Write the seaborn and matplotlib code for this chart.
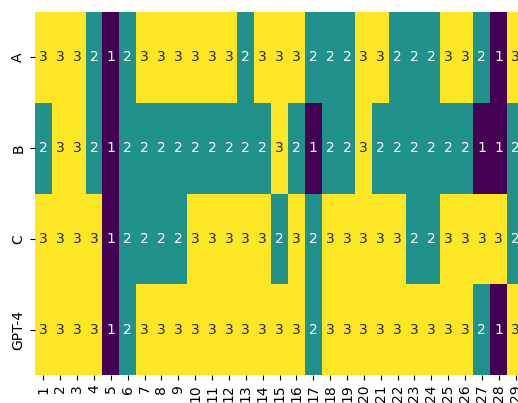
import seaborn as sns
import pandas as pd
import numpy as np
import matplotlib
matplotlib.use("Agg")
import matplotlib.pyplot as plt


questions = [str(i) for i in range(1, 30)]
graders = ["A", "B", "C", "GPT-4"]
scores_a = [3, 3, 3, 2, 1, 2, 3, 3, 3, 3, 3, 3, 2, 3, 3, 3, 2, 2, 2, 3, 3, 2, 2, 2, 3, 3, 2, 1, 3]
scores_b = [2, 3, 3, 2, 1, 2, 2, 2, 2, 2, 2, 2, 2, 2, 3, 2, 1, 2, 2, 3, 2, 2, 2, 2, 2, 2, 1, 1, 2]
scores_c = [3, 3, 3, 3, 1, 2, 2, 2, 2, 3, 3, 3, 3, 3, 2, 3, 2, 3, 3, 3, 3, 3, 2, 2, 3, 3, 3, 3, 2]
scores_gpt4 = [3, 3, 3, 3, 1, 2, 3, 3, 3, 3, 3, 3, 3, 3, 3, 3, 2, 3, 3, 3, 3, 3, 3, 3, 3, 3, 2, 1, 3]

df = pd.DataFrame([scores_a, scores_b, scores_c, scores_gpt4], index=graders, columns=questions)

fig = plt.figure(figsize=(5.18, 4.03), dpi=100)
# the right-most column runs slightly past the figure edge, as in the original
ax = fig.add_axes([35 / 518, 28 / 403, 489 / 518, 363 / 403])
sns.heatmap(df, ax=ax, cmap="viridis", annot=True, fmt="d", cbar=False)
ax.set_xticklabels(questions, rotation=90)
ax.set_yticklabels(graders, rotation=90, va="center")
ax.set_xlabel("")
ax.set_ylabel("")
fig.savefig("out.png", dpi=100)
